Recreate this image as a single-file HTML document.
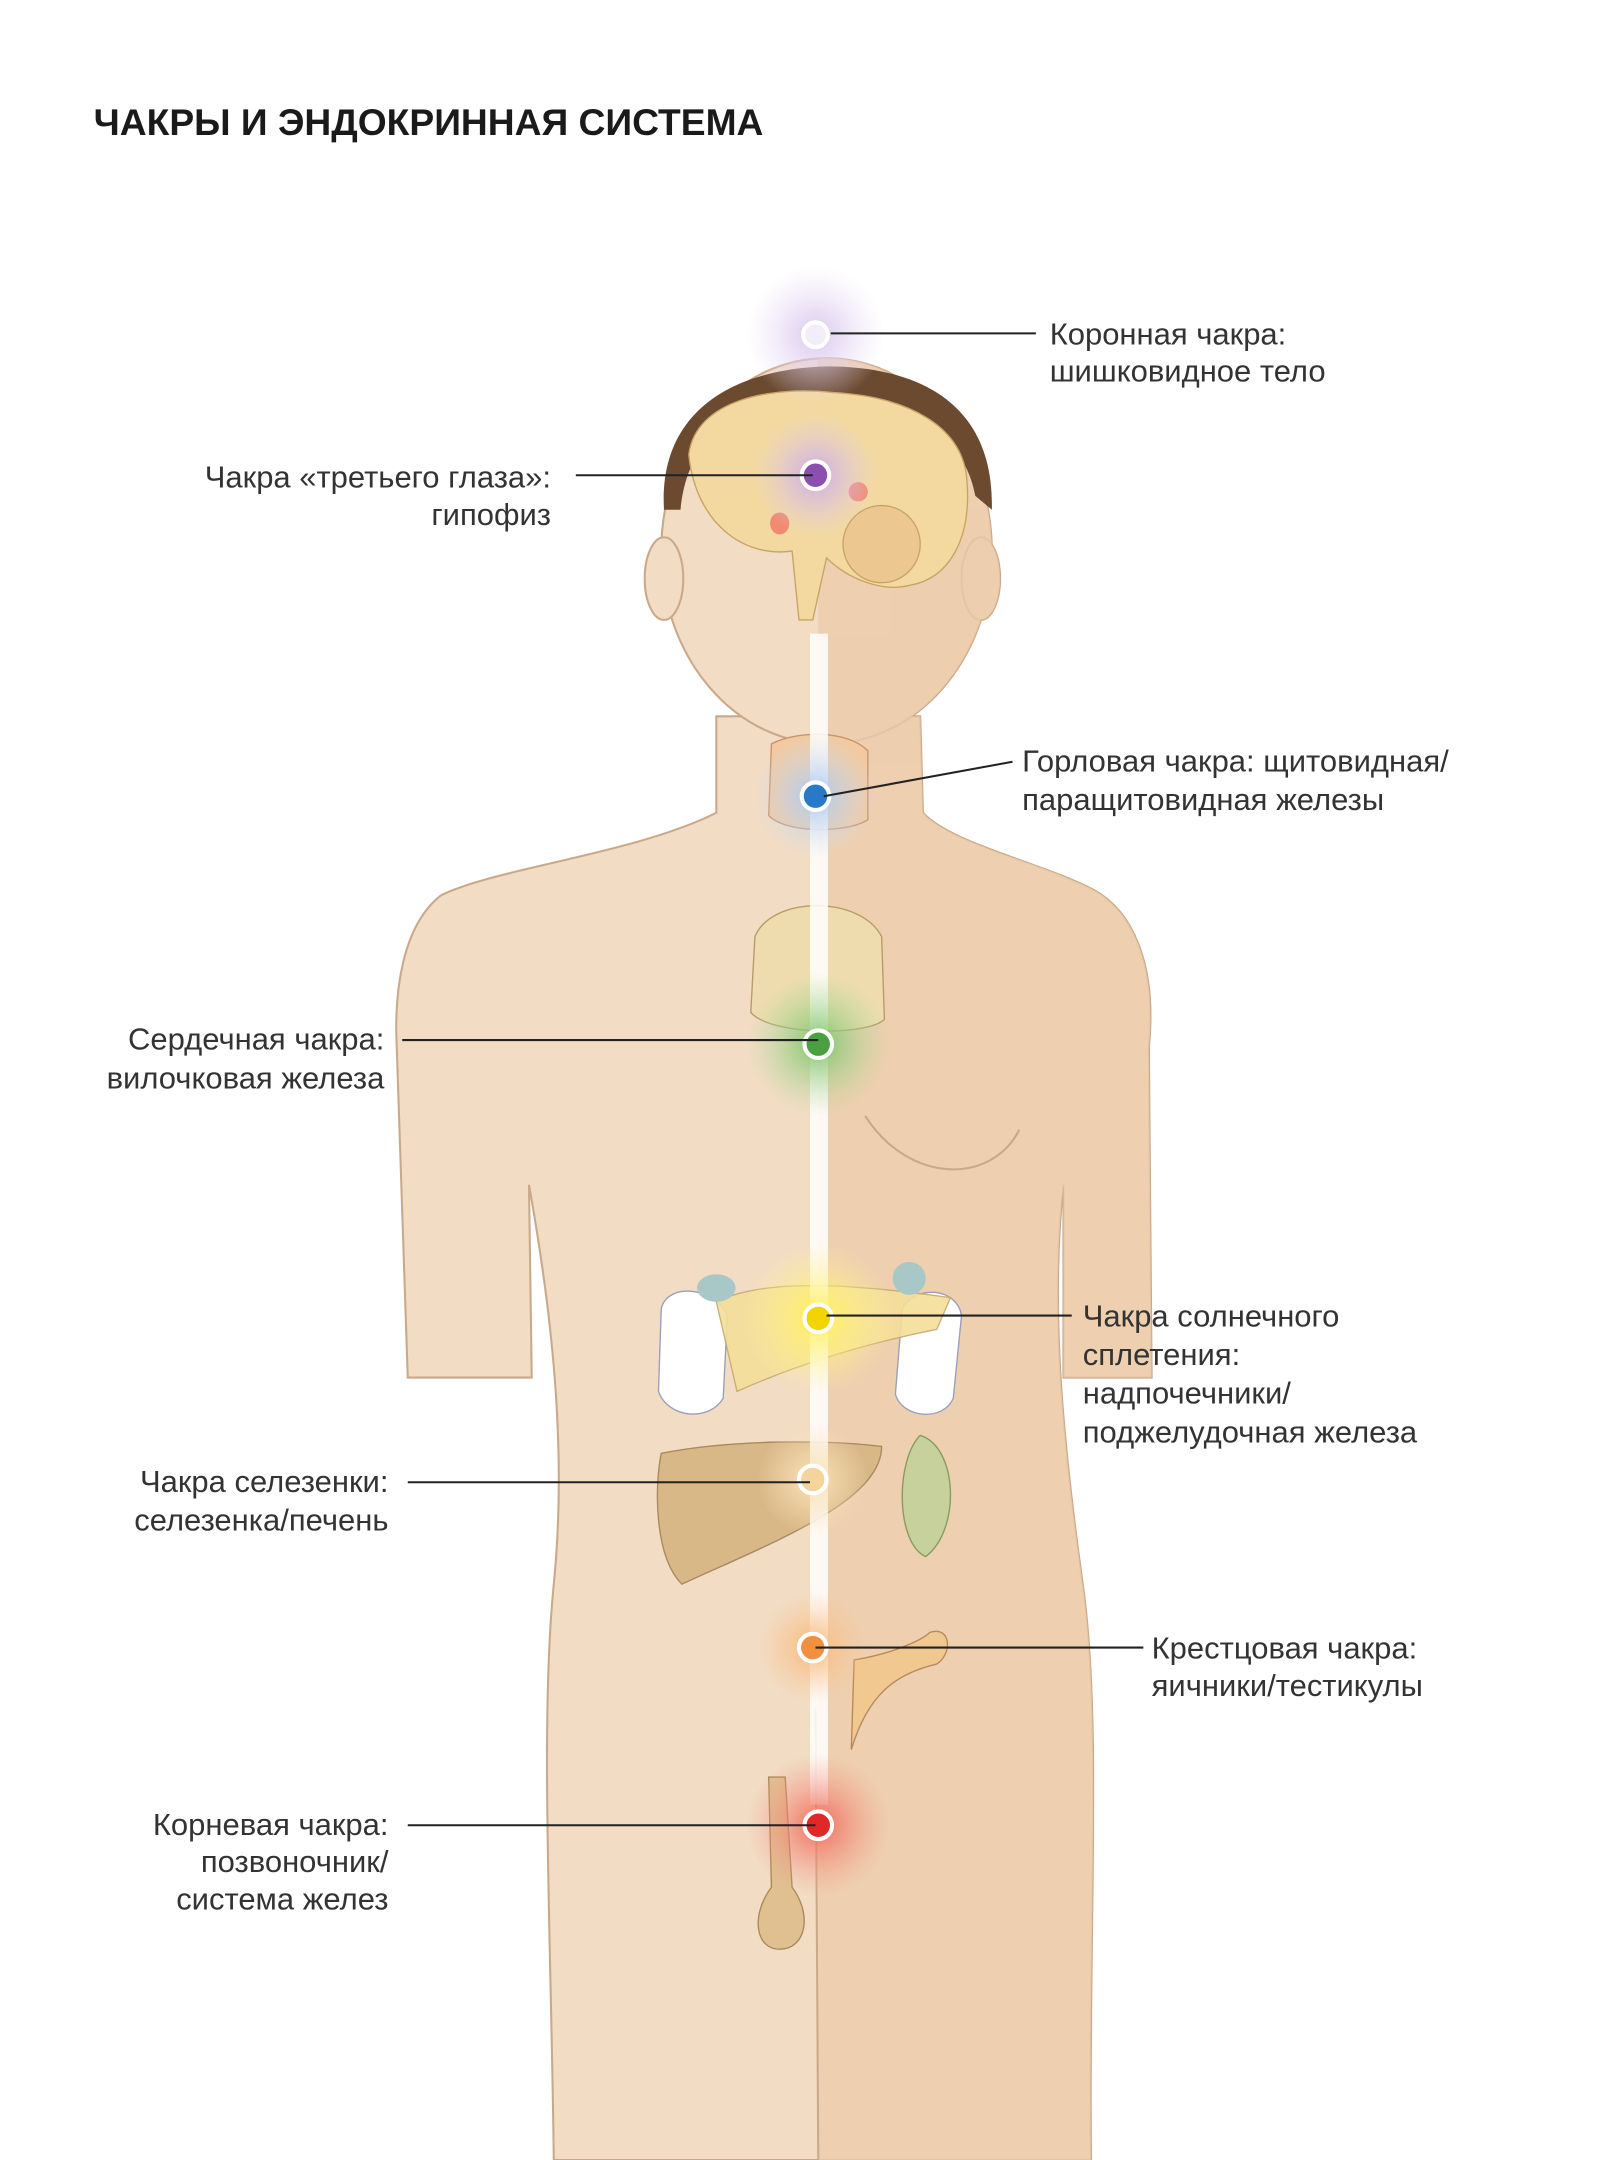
<!DOCTYPE html>
<html><head><meta charset="utf-8"><style>
html,body{margin:0;padding:0;background:#fff}
svg{display:block}
text{font-family:"Liberation Sans","DejaVu Sans",sans-serif;fill:#333}
</style></head><body>
<svg width="1620" height="2160" viewBox="0 0 1176 1568" xmlns="http://www.w3.org/2000/svg">
<defs>
<radialGradient id="gV"><stop offset="0" stop-color="#d9c6ee" stop-opacity="1"/><stop offset="1" stop-color="#e8def5" stop-opacity="0"/></radialGradient>
<radialGradient id="gP"><stop offset="0" stop-color="#c9a8e6"/><stop offset="1" stop-color="#e0d0f0" stop-opacity="0"/></radialGradient>
<radialGradient id="gB"><stop offset="0" stop-color="#a9c8f0"/><stop offset="1" stop-color="#cfe0f5" stop-opacity="0"/></radialGradient>
<radialGradient id="gG"><stop offset="0" stop-color="#7cc46a"/><stop offset="1" stop-color="#b6dca0" stop-opacity="0"/></radialGradient>
<radialGradient id="gY"><stop offset="0" stop-color="#fff15a"/><stop offset="1" stop-color="#fff4a0" stop-opacity="0"/></radialGradient>
<radialGradient id="gO1"><stop offset="0" stop-color="#fbe2b8"/><stop offset="1" stop-color="#fbe2b8" stop-opacity="0"/></radialGradient>
<radialGradient id="gO"><stop offset="0" stop-color="#f9b878"/><stop offset="1" stop-color="#f9c898" stop-opacity="0"/></radialGradient>
<radialGradient id="gR"><stop offset="0" stop-color="#f06a5a"/><stop offset="1" stop-color="#f5a090" stop-opacity="0"/></radialGradient>
<clipPath id="right"><rect x="594" y="0" width="600" height="1568"/></clipPath>
</defs>
<text x="68" y="98" font-size="27" font-weight="bold" style="fill:#1a1a1a">ЧАКРЫ И ЭНДОКРИННАЯ СИСТЕМА</text>

<g id="body" fill="#f2dcc4" stroke="#c9a98a" stroke-width="1.5">
<path d="M520 520 L520 590 C460 620 360 630 320 650 C292 672 286 720 288 760 L296 1000 L386 1000 L384 860 C400 950 412 1050 402 1150 C392 1250 400 1400 402 1568 L792 1568 C790 1400 800 1250 786 1150 C772 1050 762 950 772 860 L772 1000 L836 1000 L834 760 C840 700 822 660 792 645 C752 625 690 612 670 590 L668 520 Z"/>
<ellipse cx="600" cy="400" rx="120" ry="140"/>
<ellipse cx="482" cy="420" rx="14" ry="30"/>
<ellipse cx="712" cy="420" rx="14" ry="30"/>
</g>
<g clip-path="url(#right)" fill="#ecccaa" opacity="0.8">
<path d="M520 520 L520 590 C460 620 360 630 320 650 C292 672 286 720 288 760 L296 1000 L386 1000 L384 860 C400 950 412 1050 402 1150 C392 1250 400 1400 402 1568 L792 1568 C790 1400 800 1250 786 1150 C772 1050 762 950 772 860 L772 1000 L836 1000 L834 760 C840 700 822 660 792 645 C752 625 690 612 670 590 L668 520 Z"/>
<ellipse cx="600" cy="400" rx="120" ry="140"/>
<ellipse cx="712" cy="420" rx="14" ry="30"/>
</g>
<path d="M482 370 C478 300 530 268 600 266 C670 266 722 295 720 370 L708 360 C700 315 660 295 600 296 C540 296 500 310 494 370 Z" fill="#6b4a30"/>
<path d="M592 1240 L594 1568 M628 810 C660 860 720 860 740 820" stroke="#c9a98a" fill="none" stroke-width="1.5"/>
<path d="M500 330 C505 290 560 280 605 285 C660 288 700 310 702 350 C705 390 690 420 660 425 C640 430 615 420 600 405 L590 450 L580 450 L575 400 C540 405 505 380 500 330 Z" fill="#f3d9a0" stroke="#c8a464"/>
<circle cx="640" cy="395" r="28" fill="#ecc890" stroke="#c8a464"/>
<ellipse cx="566" cy="380" rx="7" ry="8" fill="#f08a70"/>
<ellipse cx="623" cy="357" rx="7" ry="7" fill="#f08a70"/>
<path d="M560 540 C580 530 615 530 630 545 L630 595 C615 605 570 605 558 592 Z" fill="#f2c9a0" stroke="#c89470"/>
<path d="M548 680 C560 650 625 650 640 680 L642 740 C630 752 560 752 545 735 Z" fill="#eedcae" stroke="#b89c68"/>
<path d="M480 950 C485 930 520 935 528 955 L525 1015 C515 1032 485 1030 478 1010 Z" fill="#fff" stroke="#9aa0b8"/>
<path d="M655 950 C665 932 695 935 698 955 L692 1015 C685 1032 655 1030 650 1012 Z" fill="#fff" stroke="#9aa0b8"/>
<path d="M520 945 C560 925 640 935 690 942 L680 965 C630 975 580 990 535 1010 Z" fill="#f5df9a" stroke="#c8a870" opacity="0.9"/>
<ellipse cx="520" cy="935" rx="14" ry="10" fill="#a8c8c8"/>
<ellipse cx="660" cy="928" rx="12" ry="12" fill="#a8c8c8"/>
<path d="M480 1055 C530 1045 600 1045 640 1050 C640 1090 560 1120 495 1150 C475 1130 475 1080 480 1055 Z" fill="#d9b888" stroke="#a88a60"/>
<path d="M668 1042 C695 1050 698 1110 672 1130 C650 1120 650 1060 668 1042 Z" fill="#c6d19c" stroke="#8a9a60"/>
<path d="M620 1205 C650 1200 670 1190 675 1185 C690 1180 692 1200 680 1208 C650 1215 630 1230 618 1270 Z" fill="#f0c890" stroke="#b88a5a"/>
<path d="M558 1290 L570 1290 L575 1370 C590 1390 585 1415 566 1415 C548 1415 545 1390 560 1370 Z" fill="#e0c090" stroke="#a88a5a"/>
<rect x="588" y="460" width="13" height="850" fill="#fff" opacity="0.85"/>
<g>
<circle cx="592" cy="243" r="50" fill="url(#gV)"/>
<circle cx="592" cy="345" r="45" fill="url(#gP)"/>
<circle cx="592" cy="578" r="45" fill="url(#gB)"/>
<circle cx="594" cy="758" r="52" fill="url(#gG)"/>
<circle cx="594" cy="957" r="55" fill="url(#gY)"/>
<circle cx="590" cy="1074" r="40" fill="url(#gO1)"/>
<circle cx="590" cy="1196" r="40" fill="url(#gO)"/>
<circle cx="594" cy="1325" r="52" fill="url(#gR)"/>
</g>
<g stroke="#fff" stroke-width="3">
<circle cx="592" cy="243" r="9" fill="#f3ecfa"/>
<circle cx="592" cy="345" r="10" fill="#8a4fb0"/>
<circle cx="592" cy="578" r="10" fill="#2a78c8"/>
<circle cx="594" cy="758" r="10" fill="#4aa040"/>
<circle cx="594" cy="957" r="10" fill="#f2d400"/>
<circle cx="590" cy="1074" r="10" fill="#f4d49a"/>
<circle cx="590" cy="1196" r="10" fill="#f09040"/>
<circle cx="594" cy="1325" r="10" fill="#e02828"/>
</g>
<g stroke="#222" stroke-width="1.5">
<line x1="603" y1="242" x2="752" y2="242"/>
<line x1="418" y1="345" x2="590" y2="345"/>
<line x1="598" y1="578" x2="735" y2="553"/>
<line x1="292" y1="755" x2="594" y2="755"/>
<line x1="600" y1="955" x2="778" y2="955"/>
<line x1="296" y1="1076" x2="588" y2="1076"/>
<line x1="592" y1="1196" x2="830" y2="1196"/>
<line x1="296" y1="1325" x2="592" y2="1325"/>
</g>
<g font-size="22.5">
<text x="762" y="250">Коронная чакра:</text>
<text x="762" y="277">шишковидное тело</text>
<text x="400" y="354" text-anchor="end">Чакра «третьего глаза»:</text>
<text x="400" y="381" text-anchor="end">гипофиз</text>
<text x="742" y="560">Горловая чакра: щитовидная/</text>
<text x="742" y="588">паращитовидная железы</text>
<text x="279" y="762" text-anchor="end">Сердечная чакра:</text>
<text x="279" y="790" text-anchor="end">вилочковая железа</text>
<text x="786" y="963">Чакра солнечного</text>
<text x="786" y="991">сплетения:</text>
<text x="786" y="1019">надпочечники/</text>
<text x="786" y="1047">поджелудочная железа</text>
<text x="282" y="1083" text-anchor="end">Чакра селезенки:</text>
<text x="282" y="1111" text-anchor="end">селезенка/печень</text>
<text x="836" y="1204">Крестцовая чакра:</text>
<text x="836" y="1231">яичники/тестикулы</text>
<text x="282" y="1332" text-anchor="end">Корневая чакра:</text>
<text x="282" y="1359" text-anchor="end">позвоночник/</text>
<text x="282" y="1386" text-anchor="end">система желез</text>
</g>
</svg>
</body></html>
